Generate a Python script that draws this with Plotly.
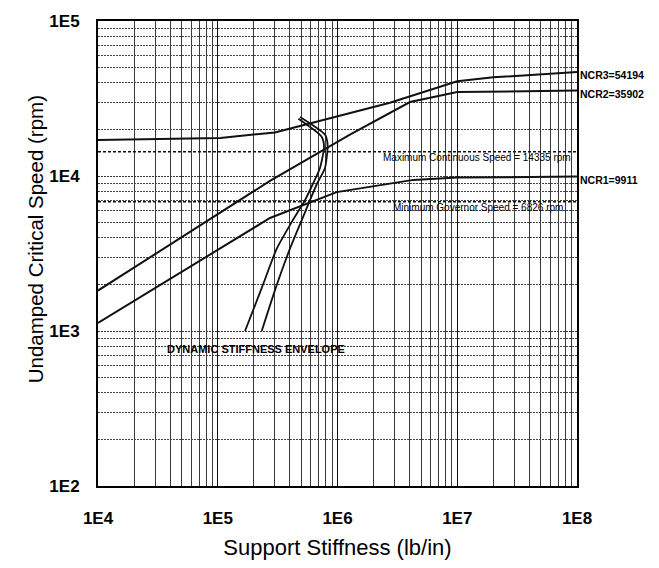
import numpy as np
import plotly.graph_objects as go

# ---------------- data ----------------
x_ncr3 = [1e4, 1.05e5, 3.0e5, 2.74e6, 1.0e7, 2.0e7, 1.0e8]
y_ncr3 = [17100, 17600, 19100, 29700, 40800, 43300, 46900]

x_ncr2 = [1e4, 2.73e5, 1.27e6, 2.26e6, 4.03e6, 1.0e7, 1.0e8]
y_ncr2 = [1824, 9300, 18500, 23400, 30000, 34800, 35600]

x_ncr1 = [1e4, 2.73e5, 9.84e5, 2.74e6, 4.3e6, 1.0e7, 1.0e8]
y_ncr1 = [1128, 5360, 7870, 8870, 9440, 9770, 9911]

env_left_x = [1.69e5, 2.34e5, 3.11e5, 4.17e5, 5.35e5, 6.24e5, 7.14e5, 7.72e5, 7.35e5, 4.71e5]
env_left_y = [1000, 1911, 3399, 5083, 6981, 8913, 11270, 15399, 17970, 23380]
env_right_x = [2.33e5, 3.06e5, 4.01e5, 5.05e5, 5.89e5, 6.74e5, 7.86e5, 8.27e5, 7.86e5, 4.86e5]
env_right_y = [1000, 1911, 3399, 5233, 6981, 8913, 11270, 15780, 18500, 24050]

max_cont_speed = 14335
min_gov_speed = 6826
speed_line_x = [1e4, 1e8]

ncr_labels = ["NCR3=54194", "NCR2=35902", "NCR1=9911"]
ncr_label_y = [46900, 35600, 9911]

x_tickvals = [1e4, 1e5, 1e6, 1e7, 1e8]
x_ticktext = ["1E4", "1E5", "1E6", "1E7", "1E8"]
y_tickvals = [1e2, 1e3, 1e4, 1e5]
y_ticktext = ["1E2", "1E3", "1E4", "1E5"]

# ---------------- figure ----------------
LINE = "#111111"
fig = go.Figure()

for xs, ys in [(x_ncr3, y_ncr3), (x_ncr2, y_ncr2), (x_ncr1, y_ncr1)]:
    fig.add_trace(go.Scatter(x=xs, y=ys, mode="lines",
                             line=dict(color=LINE, width=2), showlegend=False))

for xs, ys in [(env_left_x, env_left_y), (env_right_x, env_right_y)]:
    fig.add_trace(go.Scatter(x=xs, y=ys, mode="lines",
                             line=dict(color=LINE, width=1.8, shape="spline", smoothing=0.6),
                             showlegend=False))

for v in [max_cont_speed, min_gov_speed]:
    fig.add_trace(go.Scatter(x=speed_line_x, y=[v, v], mode="lines",
                             line=dict(color=LINE, width=1.5, dash="3px,2px"),
                             showlegend=False))

sans = "Liberation Sans, Arial, Helvetica, sans-serif"

fig.add_annotation(x=np.log10(9.3e7), y=np.log10(max_cont_speed), xref="x", yref="y",
                   text="Maximum Continuous Speed = 14335 rpm", showarrow=False,
                   xanchor="right", yanchor="top", yshift=2,
                   font=dict(family=sans, size=10, color="black"))
fig.add_annotation(x=np.log10(8.0e7), y=np.log10(min_gov_speed), xref="x", yref="y",
                   text="Minimum Governor Speed = 6826 rpm", showarrow=False,
                   xanchor="right", yanchor="top", yshift=2,
                   font=dict(family=sans, size=10, color="black"))
fig.add_annotation(x=np.log10(2.07e5), y=np.log10(760), xref="x", yref="y",
                   text="<b>DYNAMIC STIFFNESS ENVELOPE</b>", showarrow=False,
                   xanchor="center", yanchor="middle",
                   font=dict(family=sans, size=11, color="black"))

for lab, yv in zip(ncr_labels, ncr_label_y):
    fig.add_annotation(x=1, y=np.log10(yv), xref="paper", yref="y", text="<b>" + lab + "</b>",
                       showarrow=False, xanchor="left", yanchor="middle", xshift=1, yshift=-3,
                       font=dict(family=sans, size=10.5, color="black"))

fig.add_annotation(x=-0.13, y=0.53, xref="paper", yref="paper",
                   text="Undamped Critical Speed (rpm)", showarrow=False, textangle=-90,
                   xanchor="center", yanchor="middle",
                   font=dict(family=sans, size=20.5, color="black"))

fig.update_xaxes(type="log", range=[4, 8], tickvals=x_tickvals, ticktext=x_ticktext,
                 showline=True, mirror=True, linecolor="black", linewidth=2,
                 showgrid=True, gridcolor="#111111", gridwidth=1,
                 minor=dict(dtick="D1", showgrid=True, gridcolor="#3a3a3a", gridwidth=1),
                 ticks="", ticklabelstandoff=16,
                 tickfont=dict(family=sans, size=17, color="black", weight="bold"),
                 title=dict(text="Support Stiffness (lb/in)", standoff=12,
                            font=dict(family=sans, size=22, color="black")),
                 zeroline=False)
fig.update_yaxes(type="log", range=[2, 5], tickvals=y_tickvals, ticktext=y_ticktext,
                 showline=True, mirror=True, linecolor="black", linewidth=2,
                 showgrid=True, gridcolor="#333333", gridwidth=1, griddash="2px,1px",
                 minor=dict(dtick="D1", showgrid=True, gridcolor="#444444", gridwidth=1, griddash="2px,1px"),
                 ticks="", ticklabelstandoff=13,
                 tickfont=dict(family=sans, size=17, color="black", weight="bold"),
                 zeroline=False)

fig.update_layout(width=659, height=568, margin=dict(l=98, r=82, t=15, b=73),
                  paper_bgcolor="white", plot_bgcolor="white", showlegend=False)

fig.write_html("out.html")
